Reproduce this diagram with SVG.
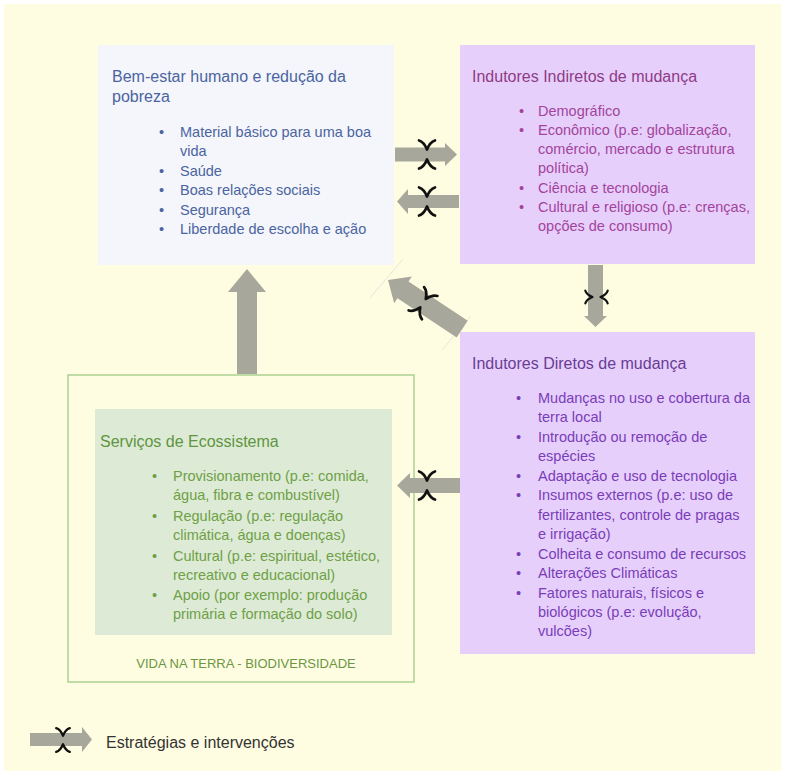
<svg xmlns="http://www.w3.org/2000/svg" width="785" height="775" viewBox="0 0 785 775">
<style>
text{font-family:"Liberation Sans",Arial,sans-serif;}
.t{font-size:16px;}
.b{font-size:14.5px;}
.blue{fill:#4B64A0;}
.mag{fill:#A3449C;}
.magt{fill:#8E3B86;}
.vio{fill:#7A3DB8;}
.viot{fill:#6A3C96;}
.grn{fill:#6FA046;}
.grnt{fill:#5F9440;}
.arr{fill:#A8A79B;}
.mk{fill:none;stroke:#111;stroke-width:2.7;stroke-linecap:round;stroke-linejoin:round;}
.faint{stroke:#E6E6DC;stroke-width:1;fill:none;}
</style>
<defs>
<g id="marks">
<path class="mk" d="M-8,-14 Q-3,-12.5 0,-5 Q3,-12.5 8,-14"/>
<path class="mk" d="M-8,14 Q-3,12.5 0,5 Q3,12.5 8,14"/>
</g>
</defs>
<rect x="0" y="0" width="785" height="775" fill="#FFFFFF"/>
<rect x="4" y="4" width="777" height="767" fill="#FFFDE1"/>

<g id="node-bem-estar">
<rect x="98" y="45" width="296" height="220" fill="#F4F6FB"/>
<text class="t blue" x="112" y="82">Bem-estar humano e redução da</text>
<text class="t blue" x="112" y="102">pobreza</text>
<g class="b blue">
<text x="159" y="137">•</text><text x="180" y="137">Material básico para uma boa</text>
<text x="180" y="156">vida</text>
<text x="159" y="176">•</text><text x="180" y="176">Saúde</text>
<text x="159" y="195">•</text><text x="180" y="195">Boas relações sociais</text>
<text x="159" y="215">•</text><text x="180" y="215">Segurança</text>
<text x="159" y="234">•</text><text x="180" y="234">Liberdade de escolha e ação</text>
</g>
</g>

<g id="node-indiretos">
<rect x="460" y="45" width="295" height="219" fill="#E6CFFB"/>
<text class="t magt" x="472" y="82">Indutores Indiretos de mudança</text>
<g class="b mag">
<text x="519" y="116">•</text><text x="538" y="116">Demográfico</text>
<text x="519" y="135">•</text><text x="538" y="135">Econômico (p.e: globalização,</text>
<text x="538" y="154">comércio, mercado e estrutura</text>
<text x="538" y="173">política)</text>
<text x="519" y="193">•</text><text x="538" y="193">Ciência e tecnologia</text>
<text x="519" y="212">•</text><text x="538" y="212">Cultural e religioso (p.e: crenças,</text>
<text x="538" y="231">opções de consumo)</text>
</g>
</g>

<g id="node-diretos">
<rect x="460" y="332" width="295" height="322" fill="#E6CFFB"/>
<text class="t viot" x="472" y="369">Indutores Diretos de mudança</text>
<g class="b vio">
<text x="516" y="403">•</text><text x="538" y="403">Mudanças no uso e cobertura da</text>
<text x="538" y="422">terra local</text>
<text x="516" y="442">•</text><text x="538" y="442">Introdução ou remoção de</text>
<text x="538" y="461">espécies</text>
<text x="516" y="481">•</text><text x="538" y="481">Adaptação e uso de tecnologia</text>
<text x="516" y="500">•</text><text x="538" y="500">Insumos externos (p.e: uso de</text>
<text x="538" y="520">fertilizantes, controle de pragas</text>
<text x="538" y="539">e irrigação)</text>
<text x="516" y="559">•</text><text x="538" y="559">Colheita e consumo de recursos</text>
<text x="516" y="578">•</text><text x="538" y="578">Alterações Climáticas</text>
<text x="516" y="598">•</text><text x="538" y="598">Fatores naturais, físicos e</text>
<text x="538" y="617">biológicos (p.e: evolução,</text>
<text x="538" y="636">vulcões)</text>
</g>
</g>

<g id="node-vida-na-terra">
<rect x="68" y="375" width="346" height="307" fill="none" stroke="#A9D18E" stroke-width="1.5"/>
<text x="246" y="668" text-anchor="middle" style="font-size:13px;fill:#6B9644;">VIDA NA TERRA - BIODIVERSIDADE</text>
</g>

<g id="node-servicos">
<rect x="95" y="409" width="297" height="226" fill="#DDEBD6"/>
<text class="t grnt" x="100" y="447">Serviços de Ecossistema</text>
<g class="b grn">
<text x="152" y="481">•</text><text x="173" y="481">Provisionamento (p.e: comida,</text>
<text x="173" y="500">água, fibra e combustível)</text>
<text x="152" y="521">•</text><text x="173" y="521">Regulação (p.e: regulação</text>
<text x="173" y="540">climática, água e doenças)</text>
<text x="152" y="561">•</text><text x="173" y="561">Cultural (p.e: espiritual, estético,</text>
<text x="173" y="580">recreativo e educacional)</text>
<text x="152" y="600">•</text><text x="173" y="600">Apoio (por exemplo: produção</text>
<text x="173" y="619">primária e formação do solo)</text>
</g>
</g>

<g id="connectors">
<line class="faint" x1="403" y1="259" x2="370" y2="298"/>
<line class="faint" x1="471" y1="316" x2="442" y2="350"/>
<!-- bem-estar -> indiretos -->
<polygon class="arr" points="395,147.5 445,147.5 445,143 457,154.5 445,166 445,161.5 395,161.5"/>
<use href="#marks" transform="translate(427,154.5)"/>
<!-- indiretos -> bem-estar -->
<polygon class="arr" points="459,195 408,195 408,189 397,201.5 408,214 408,208 459,208"/>
<use href="#marks" transform="translate(427,201.5)"/>
<!-- indiretos -> diretos -->
<polygon class="arr" points="588,265 603,265 603,316 607,316 595.5,327 584,316 588,316"/>
<use href="#marks" transform="translate(596.5,297) rotate(90) scale(0.8)"/>
<!-- diretos -> bem-estar (diagonal) -->
<g transform="translate(388,280) rotate(213.5)">
<polygon class="arr" points="-89,-10 -18,-10 -18,-16 0,0 -18,16 -18,10 -89,10"/>
<use href="#marks" transform="translate(-42,0)"/>
</g>
<!-- servicos -> bem-estar -->
<polygon class="arr" points="237,374 237,292 228,292 247,269 266,292 257,292 257,374"/>
<!-- diretos -> servicos -->
<polygon class="arr" points="460,478 410,478 410,473 397,485.5 410,498 410,493 460,493"/>
<use href="#marks" transform="translate(427,485.5)"/>
</g>

<g id="legend">
<polygon class="arr" points="30,733 82,733 82,727 92,739.5 82,752 82,746 30,746"/>
<use href="#marks" transform="translate(63,740) scale(0.85)"/>
<text x="106" y="748" style="font-size:16px;fill:#333333;">Estratégias e intervenções</text>
</g>
</svg>
